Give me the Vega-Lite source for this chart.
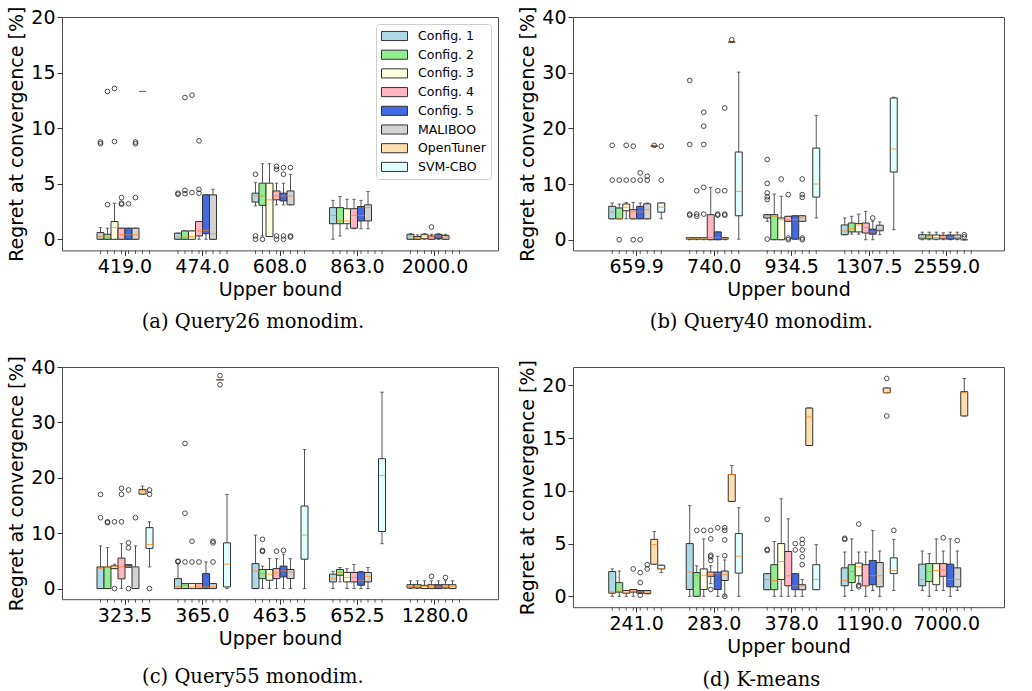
{
"$schema":"https://vega.github.io/schema/vega-lite/v6.json",
"background":"white",
"padding":{"left":7,"top":5,"right":0,"bottom":0},
"datasets":{
"boxes":[
{"p":"a","u":"419.0","c":"Config. 1","lo":0,"q1":0,"md":0.25,"q3":0.6,"hi":1.05},
{"p":"a","u":"419.0","c":"Config. 2","lo":0,"q1":0,"md":0.2,"q3":0.45,"hi":1.0},
{"p":"a","u":"419.0","c":"Config. 3","lo":0,"q1":0,"md":1.05,"q3":1.6,"hi":3.25},
{"p":"a","u":"419.0","c":"Config. 4","lo":0,"q1":0,"md":0.4,"q3":1.0,"hi":1.0},
{"p":"a","u":"419.0","c":"Config. 5","lo":0,"q1":0,"md":0.4,"q3":1.0,"hi":1.0},
{"p":"a","u":"419.0","c":"MALIBOO","lo":0,"q1":0,"md":0.4,"q3":1.0,"hi":1.0},
{"p":"a","u":"419.0","c":"OpenTuner","lo":13.3,"q1":13.3,"md":13.3,"q3":13.3,"hi":13.3},
{"p":"a","u":"419.0","c":"SVM-CBO"},
{"p":"a","u":"474.0","c":"Config. 1","lo":0,"q1":0,"md":0.2,"q3":0.55,"hi":0.55},
{"p":"a","u":"474.0","c":"Config. 2","lo":0,"q1":0,"md":0.2,"q3":0.75,"hi":0.75},
{"p":"a","u":"474.0","c":"Config. 3","lo":0,"q1":0,"md":0.25,"q3":0.75,"hi":0.75},
{"p":"a","u":"474.0","c":"Config. 4","lo":0,"q1":0.3,"md":0.75,"q3":1.6,"hi":1.6},
{"p":"a","u":"474.0","c":"Config. 5","lo":0,"q1":0.5,"md":0.8,"q3":4.0,"hi":4.0},
{"p":"a","u":"474.0","c":"MALIBOO","lo":0,"q1":0,"md":0.5,"q3":4.0,"hi":4.5},
{"p":"a","u":"474.0","c":"OpenTuner"},
{"p":"a","u":"474.0","c":"SVM-CBO"},
{"p":"a","u":"608.0","c":"Config. 1","lo":3.0,"q1":3.35,"md":3.9,"q3":4.15,"hi":5.1},
{"p":"a","u":"608.0","c":"Config. 2","lo":0.3,"q1":3.05,"md":3.9,"q3":5.05,"hi":6.8},
{"p":"a","u":"608.0","c":"Config. 3","lo":0.25,"q1":0.25,"md":3.55,"q3":5.05,"hi":6.8},
{"p":"a","u":"608.0","c":"Config. 4","lo":3.1,"q1":3.55,"md":3.9,"q3":4.35,"hi":5.05},
{"p":"a","u":"608.0","c":"Config. 5","lo":3.1,"q1":3.45,"md":3.9,"q3":4.15,"hi":5.05},
{"p":"a","u":"608.0","c":"MALIBOO","lo":3.1,"q1":3.1,"md":3.9,"q3":4.35,"hi":5.85},
{"p":"a","u":"608.0","c":"OpenTuner"},
{"p":"a","u":"608.0","c":"SVM-CBO"},
{"p":"a","u":"863.0","c":"Config. 1","lo":0,"q1":1.4,"md":2.15,"q3":2.85,"hi":3.5},
{"p":"a","u":"863.0","c":"Config. 2","lo":0.3,"q1":1.4,"md":1.65,"q3":2.85,"hi":3.85},
{"p":"a","u":"863.0","c":"Config. 3","lo":0.95,"q1":1.4,"md":1.65,"q3":2.75,"hi":3.6},
{"p":"a","u":"863.0","c":"Config. 4","lo":0.95,"q1":1.0,"md":2.15,"q3":2.75,"hi":3.6},
{"p":"a","u":"863.0","c":"Config. 5","lo":0.95,"q1":1.65,"md":2.15,"q3":2.95,"hi":3.5},
{"p":"a","u":"863.0","c":"MALIBOO","lo":0.95,"q1":1.65,"md":2.85,"q3":3.1,"hi":4.3},
{"p":"a","u":"863.0","c":"OpenTuner"},
{"p":"a","u":"863.0","c":"SVM-CBO"},
{"p":"a","u":"2000.0","c":"Config. 1","lo":0,"q1":0,"md":0.3,"q3":0.45,"hi":0.5},
{"p":"a","u":"2000.0","c":"Config. 2","lo":0,"q1":0,"md":0.1,"q3":0.25,"hi":0.4},
{"p":"a","u":"2000.0","c":"Config. 3","lo":0,"q1":0.05,"md":0.3,"q3":0.45,"hi":0.5},
{"p":"a","u":"2000.0","c":"Config. 4","lo":0,"q1":0,"md":0.2,"q3":0.3,"hi":0.45},
{"p":"a","u":"2000.0","c":"Config. 5","lo":0,"q1":0.05,"md":0.3,"q3":0.45,"hi":0.5},
{"p":"a","u":"2000.0","c":"MALIBOO","lo":0,"q1":0,"md":0.2,"q3":0.35,"hi":0.45},
{"p":"a","u":"2000.0","c":"OpenTuner"},
{"p":"a","u":"2000.0","c":"SVM-CBO"},
{"p":"b","u":"659.9","c":"Config. 1","lo":3.75,"q1":3.75,"md":5.0,"q3":6.0,"hi":6.6},
{"p":"b","u":"659.9","c":"Config. 2","lo":3.75,"q1":3.75,"md":3.75,"q3":5.7,"hi":6.4},
{"p":"b","u":"659.9","c":"Config. 3","lo":3.75,"q1":5.2,"md":5.85,"q3":6.4,"hi":6.7},
{"p":"b","u":"659.9","c":"Config. 4","lo":3.75,"q1":3.75,"md":5.0,"q3":5.4,"hi":6.7},
{"p":"b","u":"659.9","c":"Config. 5","lo":3.75,"q1":3.75,"md":5.0,"q3":6.0,"hi":6.6},
{"p":"b","u":"659.9","c":"MALIBOO","lo":3.75,"q1":3.75,"md":5.4,"q3":6.45,"hi":6.6},
{"p":"b","u":"659.9","c":"OpenTuner","lo":16.8,"q1":16.8,"md":16.8,"q3":16.8,"hi":16.8},
{"p":"b","u":"659.9","c":"SVM-CBO","lo":3.75,"q1":4.95,"md":5.85,"q3":6.6,"hi":6.6},
{"p":"b","u":"740.0","c":"Config. 1","lo":0,"q1":0.1,"md":0.3,"q3":0.4,"hi":0.4},
{"p":"b","u":"740.0","c":"Config. 2","lo":0,"q1":0.1,"md":0.3,"q3":0.4,"hi":0.4},
{"p":"b","u":"740.0","c":"Config. 3","lo":0,"q1":0.1,"md":0.3,"q3":0.4,"hi":0.4},
{"p":"b","u":"740.0","c":"Config. 4","lo":0,"q1":0,"md":0.4,"q3":4.5,"hi":9.4},
{"p":"b","u":"740.0","c":"Config. 5","lo":0,"q1":0,"md":0.4,"q3":1.4,"hi":1.4},
{"p":"b","u":"740.0","c":"MALIBOO","lo":0,"q1":0.1,"md":0.3,"q3":0.4,"hi":0.4},
{"p":"b","u":"740.0","c":"OpenTuner","lo":35.5,"q1":35.5,"md":35.5,"q3":35.5,"hi":35.5},
{"p":"b","u":"740.0","c":"SVM-CBO","lo":0.1,"q1":4.3,"md":8.7,"q3":15.75,"hi":30.1},
{"p":"b","u":"934.5","c":"Config. 1","lo":3.3,"q1":3.9,"md":4.3,"q3":4.5,"hi":4.5},
{"p":"b","u":"934.5","c":"Config. 2","lo":0,"q1":0,"md":4.2,"q3":4.5,"hi":8.2},
{"p":"b","u":"934.5","c":"Config. 3","lo":0,"q1":0,"md":3.6,"q3":3.9,"hi":7.8},
{"p":"b","u":"934.5","c":"Config. 4","lo":3.3,"q1":3.3,"md":3.6,"q3":4.2,"hi":4.2},
{"p":"b","u":"934.5","c":"Config. 5","lo":0.1,"q1":0.1,"md":3.6,"q3":4.3,"hi":4.3},
{"p":"b","u":"934.5","c":"MALIBOO","lo":3.3,"q1":3.3,"md":3.9,"q3":4.3,"hi":4.3},
{"p":"b","u":"934.5","c":"OpenTuner"},
{"p":"b","u":"934.5","c":"SVM-CBO","lo":3.9,"q1":7.65,"md":10.0,"q3":16.45,"hi":22.3},
{"p":"b","u":"1307.5","c":"Config. 1","lo":0.9,"q1":0.9,"md":1.6,"q3":2.65,"hi":3.9},
{"p":"b","u":"1307.5","c":"Config. 2","lo":1.0,"q1":1.4,"md":2.0,"q3":3.0,"hi":4.2},
{"p":"b","u":"1307.5","c":"Config. 3","lo":1.0,"q1":1.4,"md":2.65,"q3":2.9,"hi":4.6},
{"p":"b","u":"1307.5","c":"Config. 4","lo":0,"q1":1.2,"md":2.2,"q3":3.0,"hi":5.1},
{"p":"b","u":"1307.5","c":"Config. 5","lo":0,"q1":1.0,"md":1.4,"q3":1.9,"hi":3.3},
{"p":"b","u":"1307.5","c":"MALIBOO","lo":0.9,"q1":1.6,"md":1.8,"q3":2.6,"hi":3.2},
{"p":"b","u":"1307.5","c":"OpenTuner"},
{"p":"b","u":"1307.5","c":"SVM-CBO","lo":1.8,"q1":12.15,"md":16.3,"q3":25.45,"hi":25.6},
{"p":"b","u":"2559.0","c":"Config. 1","lo":0,"q1":0.15,"md":0.45,"q3":0.9,"hi":1.35},
{"p":"b","u":"2559.0","c":"Config. 2","lo":0,"q1":0.15,"md":0.5,"q3":0.85,"hi":1.35},
{"p":"b","u":"2559.0","c":"Config. 3","lo":0,"q1":0.1,"md":0.4,"q3":0.85,"hi":1.35},
{"p":"b","u":"2559.0","c":"Config. 4","lo":0,"q1":0.15,"md":0.45,"q3":0.8,"hi":1.25},
{"p":"b","u":"2559.0","c":"Config. 5","lo":0,"q1":0.1,"md":0.45,"q3":0.85,"hi":1.35},
{"p":"b","u":"2559.0","c":"MALIBOO","lo":0,"q1":0.15,"md":0.4,"q3":0.85,"hi":1.35},
{"p":"b","u":"2559.0","c":"OpenTuner","lo":0,"q1":0,"md":0,"q3":0,"hi":0},
{"p":"b","u":"2559.0","c":"SVM-CBO"},
{"p":"c","u":"323.5","c":"Config. 1","lo":0,"q1":0,"md":3.6,"q3":3.9,"hi":7.7},
{"p":"c","u":"323.5","c":"Config. 2","lo":0,"q1":0,"md":3.9,"q3":3.9,"hi":7.4},
{"p":"c","u":"323.5","c":"Config. 3","lo":3.6,"q1":3.6,"md":3.9,"q3":4.1,"hi":4.4},
{"p":"c","u":"323.5","c":"Config. 4","lo":0,"q1":1.75,"md":3.9,"q3":5.5,"hi":8.1},
{"p":"c","u":"323.5","c":"Config. 5","lo":3.8,"q1":3.8,"md":3.9,"q3":4.3,"hi":4.3},
{"p":"c","u":"323.5","c":"MALIBOO","lo":0,"q1":0,"md":3.8,"q3":3.9,"hi":7.7},
{"p":"c","u":"323.5","c":"OpenTuner","lo":17.05,"q1":17.05,"md":17.65,"q3":17.9,"hi":18.5},
{"p":"c","u":"323.5","c":"SVM-CBO","lo":3.9,"q1":7.25,"md":7.95,"q3":11.0,"hi":12.05},
{"p":"c","u":"365.0","c":"Config. 1","lo":0,"q1":0,"md":0.4,"q3":1.8,"hi":4.5},
{"p":"c","u":"365.0","c":"Config. 2","lo":0,"q1":0,"md":0.6,"q3":0.9,"hi":0.9},
{"p":"c","u":"365.0","c":"Config. 3","lo":0,"q1":0,"md":0.3,"q3":0.9,"hi":0.9},
{"p":"c","u":"365.0","c":"Config. 4","lo":0,"q1":0,"md":0.3,"q3":0.9,"hi":0.9},
{"p":"c","u":"365.0","c":"Config. 5","lo":0,"q1":0,"md":0.3,"q3":2.7,"hi":4.8},
{"p":"c","u":"365.0","c":"MALIBOO","lo":0,"q1":0,"md":0.3,"q3":0.9,"hi":0.9},
{"p":"c","u":"365.0","c":"OpenTuner","lo":37.7,"q1":37.7,"md":37.7,"q3":37.7,"hi":37.7},
{"p":"c","u":"365.0","c":"SVM-CBO","lo":0,"q1":0.3,"md":4.4,"q3":8.25,"hi":17.0},
{"p":"c","u":"463.5","c":"Config. 1","lo":0,"q1":0,"md":3.2,"q3":4.5,"hi":9.65},
{"p":"c","u":"463.5","c":"Config. 2","lo":0,"q1":1.8,"md":2.7,"q3":3.45,"hi":4.05},
{"p":"c","u":"463.5","c":"Config. 3","lo":0,"q1":1.5,"md":2.6,"q3":3.45,"hi":5.4},
{"p":"c","u":"463.5","c":"Config. 4","lo":0,"q1":1.8,"md":2.85,"q3":3.6,"hi":5.4},
{"p":"c","u":"463.5","c":"Config. 5","lo":0,"q1":2.1,"md":3.2,"q3":4.05,"hi":6.2},
{"p":"c","u":"463.5","c":"MALIBOO","lo":0,"q1":1.8,"md":3.0,"q3":3.45,"hi":5.4},
{"p":"c","u":"463.5","c":"OpenTuner"},
{"p":"c","u":"463.5","c":"SVM-CBO","lo":0,"q1":5.3,"md":9.65,"q3":14.9,"hi":25.1},
{"p":"c","u":"652.5","c":"Config. 1","lo":0,"q1":1.2,"md":1.8,"q3":2.6,"hi":3.1},
{"p":"c","u":"652.5","c":"Config. 2","lo":1.2,"q1":2.4,"md":2.95,"q3":3.45,"hi":3.8},
{"p":"c","u":"652.5","c":"Config. 3","lo":0,"q1":1.2,"md":2.0,"q3":2.9,"hi":3.6},
{"p":"c","u":"652.5","c":"Config. 4","lo":0,"q1":1.2,"md":2.0,"q3":2.9,"hi":4.35},
{"p":"c","u":"652.5","c":"Config. 5","lo":0,"q1":0.6,"md":1.5,"q3":3.0,"hi":3.1},
{"p":"c","u":"652.5","c":"MALIBOO","lo":0,"q1":1.2,"md":2.2,"q3":2.9,"hi":3.8},
{"p":"c","u":"652.5","c":"OpenTuner"},
{"p":"c","u":"652.5","c":"SVM-CBO","lo":8.1,"q1":10.3,"md":20.4,"q3":23.45,"hi":35.45},
{"p":"c","u":"1280.0","c":"Config. 1","lo":0,"q1":0.1,"md":0.4,"q3":0.7,"hi":1.4},
{"p":"c","u":"1280.0","c":"Config. 2","lo":0,"q1":0.1,"md":0.4,"q3":0.7,"hi":1.4},
{"p":"c","u":"1280.0","c":"Config. 3","lo":0,"q1":0,"md":0.35,"q3":0.6,"hi":1.4},
{"p":"c","u":"1280.0","c":"Config. 4","lo":0,"q1":0,"md":0.4,"q3":0.7,"hi":1.4},
{"p":"c","u":"1280.0","c":"Config. 5","lo":0,"q1":0,"md":0.3,"q3":0.7,"hi":1.4},
{"p":"c","u":"1280.0","c":"MALIBOO","lo":0,"q1":0.1,"md":0.4,"q3":0.7,"hi":1.4},
{"p":"c","u":"1280.0","c":"OpenTuner","lo":0,"q1":0,"md":0.4,"q3":0.7,"hi":1.4},
{"p":"c","u":"1280.0","c":"SVM-CBO"},
{"p":"d","u":"241.0","c":"Config. 1","lo":0,"q1":0.3,"md":0.4,"q3":2.35,"hi":2.6},
{"p":"d","u":"241.0","c":"Config. 2","lo":0,"q1":0.4,"md":0.5,"q3":1.3,"hi":2.4},
{"p":"d","u":"241.0","c":"Config. 3","lo":0,"q1":0.3,"md":0.4,"q3":0.55,"hi":0.55},
{"p":"d","u":"241.0","c":"Config. 4","lo":0,"q1":0.4,"md":0.5,"q3":0.65,"hi":0.65},
{"p":"d","u":"241.0","c":"Config. 5","lo":0.3,"q1":0.3,"md":0.4,"q3":0.55,"hi":0.55},
{"p":"d","u":"241.0","c":"MALIBOO","lo":0.25,"q1":0.25,"md":0.4,"q3":0.55,"hi":0.55},
{"p":"d","u":"241.0","c":"OpenTuner","lo":3.05,"q1":3.05,"md":4.9,"q3":5.4,"hi":6.15},
{"p":"d","u":"241.0","c":"SVM-CBO","lo":2.25,"q1":2.6,"md":2.6,"q3":2.95,"hi":2.95},
{"p":"d","u":"283.0","c":"Config. 1","lo":0,"q1":0.65,"md":2.3,"q3":5.0,"hi":8.6},
{"p":"d","u":"283.0","c":"Config. 2","lo":0,"q1":0,"md":1.95,"q3":2.25,"hi":2.9},
{"p":"d","u":"283.0","c":"Config. 3","lo":0,"q1":0.65,"md":2.0,"q3":2.6,"hi":5.45},
{"p":"d","u":"283.0","c":"Config. 4","lo":1.2,"q1":1.9,"md":2.05,"q3":2.3,"hi":2.9},
{"p":"d","u":"283.0","c":"Config. 5","lo":0,"q1":0.65,"md":2.15,"q3":2.3,"hi":3.8},
{"p":"d","u":"283.0","c":"MALIBOO","lo":0,"q1":1.5,"md":2.05,"q3":2.4,"hi":3.45},
{"p":"d","u":"283.0","c":"OpenTuner","lo":9.0,"q1":9.0,"md":11.55,"q3":11.55,"hi":12.4},
{"p":"d","u":"283.0","c":"SVM-CBO","lo":0,"q1":2.2,"md":3.8,"q3":5.95,"hi":8.4},
{"p":"d","u":"378.0","c":"Config. 1","lo":0.63,"q1":0.63,"md":1.6,"q3":2.15,"hi":2.15},
{"p":"d","u":"378.0","c":"Config. 2","lo":0,"q1":0.63,"md":1.5,"q3":3.0,"hi":5.2},
{"p":"d","u":"378.0","c":"Config. 3","lo":0,"q1":1.6,"md":3.3,"q3":5.0,"hi":9.25},
{"p":"d","u":"378.0","c":"Config. 4","lo":0,"q1":1.0,"md":1.95,"q3":4.25,"hi":7.35},
{"p":"d","u":"378.0","c":"Config. 5","lo":0,"q1":0.63,"md":1.0,"q3":2.15,"hi":2.15},
{"p":"d","u":"378.0","c":"MALIBOO","lo":0,"q1":0.63,"md":1.0,"q3":1.1,"hi":1.6},
{"p":"d","u":"378.0","c":"OpenTuner","lo":14.3,"q1":14.3,"md":17.0,"q3":17.85,"hi":17.85},
{"p":"d","u":"378.0","c":"SVM-CBO","lo":0.63,"q1":0.63,"md":1.6,"q3":3.0,"hi":4.9},
{"p":"d","u":"1190.0","c":"Config. 1","lo":0,"q1":1.0,"md":1.5,"q3":2.7,"hi":4.2},
{"p":"d","u":"1190.0","c":"Config. 2","lo":0.55,"q1":1.3,"md":2.35,"q3":3.0,"hi":5.45},
{"p":"d","u":"1190.0","c":"Config. 3","lo":1.2,"q1":1.95,"md":2.8,"q3":3.15,"hi":4.2},
{"p":"d","u":"1190.0","c":"Config. 4","lo":0,"q1":1.0,"md":1.0,"q3":3.0,"hi":4.2},
{"p":"d","u":"1190.0","c":"Config. 5","lo":0.55,"q1":1.1,"md":1.95,"q3":3.4,"hi":6.25},
{"p":"d","u":"1190.0","c":"MALIBOO","lo":0,"q1":0.9,"md":1.95,"q3":3.2,"hi":4.3},
{"p":"d","u":"1190.0","c":"OpenTuner","lo":19.3,"q1":19.3,"md":19.3,"q3":19.75,"hi":19.75},
{"p":"d","u":"1190.0","c":"SVM-CBO","lo":0.55,"q1":2.15,"md":2.45,"q3":3.65,"hi":5.4},
{"p":"d","u":"7000.0","c":"Config. 1","lo":0.55,"q1":1.0,"md":1.6,"q3":3.05,"hi":4.3},
{"p":"d","u":"7000.0","c":"Config. 2","lo":0,"q1":1.4,"md":2.35,"q3":3.1,"hi":4.05},
{"p":"d","u":"7000.0","c":"Config. 3","lo":0.55,"q1":1.1,"md":2.45,"q3":3.1,"hi":5.45},
{"p":"d","u":"7000.0","c":"Config. 4","lo":0.55,"q1":1.9,"md":2.5,"q3":3.1,"hi":4.3},
{"p":"d","u":"7000.0","c":"Config. 5","lo":0,"q1":0.9,"md":1.6,"q3":3.05,"hi":5.45},
{"p":"d","u":"7000.0","c":"MALIBOO","lo":0.55,"q1":0.9,"md":1.6,"q3":2.7,"hi":4.3},
{"p":"d","u":"7000.0","c":"OpenTuner","lo":17.1,"q1":17.1,"md":19.3,"q3":19.4,"hi":20.65},
{"p":"d","u":"7000.0","c":"SVM-CBO"}
],
"outl":[
{"p":"a","u":"419.0","c":"Config. 1","v":8.6},{"p":"a","u":"419.0","c":"Config. 1","v":8.75},
{"p":"a","u":"419.0","c":"Config. 2","v":13.3},{"p":"a","u":"419.0","c":"Config. 2","v":3.12},
{"p":"a","u":"419.0","c":"Config. 3","v":13.57},{"p":"a","u":"419.0","c":"Config. 3","v":8.8},
{"p":"a","u":"419.0","c":"Config. 4","v":3.75},{"p":"a","u":"419.0","c":"Config. 4","v":3.25},{"p":"a","u":"419.0","c":"Config. 4","v":3.15},
{"p":"a","u":"419.0","c":"Config. 5","v":3.2},
{"p":"a","u":"419.0","c":"MALIBOO","v":3.75},{"p":"a","u":"419.0","c":"MALIBOO","v":8.6},{"p":"a","u":"419.0","c":"MALIBOO","v":8.75},
{"p":"a","u":"474.0","c":"Config. 1","v":4.05},{"p":"a","u":"474.0","c":"Config. 1","v":4.15},
{"p":"a","u":"474.0","c":"Config. 2","v":12.75},{"p":"a","u":"474.0","c":"Config. 2","v":4.4},{"p":"a","u":"474.0","c":"Config. 2","v":4.1},
{"p":"a","u":"474.0","c":"Config. 3","v":12.97},{"p":"a","u":"474.0","c":"Config. 3","v":4.2},
{"p":"a","u":"474.0","c":"Config. 4","v":8.86},{"p":"a","u":"474.0","c":"Config. 4","v":4.5},{"p":"a","u":"474.0","c":"Config. 4","v":4.15},
{"p":"a","u":"608.0","c":"Config. 1","v":5.85},{"p":"a","u":"608.0","c":"Config. 1","v":0.3},{"p":"a","u":"608.0","c":"Config. 1","v":0},
{"p":"a","u":"608.0","c":"Config. 2","v":0},
{"p":"a","u":"608.0","c":"Config. 4","v":6.3},{"p":"a","u":"608.0","c":"Config. 4","v":6.55},{"p":"a","u":"608.0","c":"Config. 4","v":0.3},{"p":"a","u":"608.0","c":"Config. 4","v":0},
{"p":"a","u":"608.0","c":"Config. 5","v":6.45},{"p":"a","u":"608.0","c":"Config. 5","v":5.85},{"p":"a","u":"608.0","c":"Config. 5","v":0.3},{"p":"a","u":"608.0","c":"Config. 5","v":0},
{"p":"a","u":"608.0","c":"MALIBOO","v":6.45},{"p":"a","u":"608.0","c":"MALIBOO","v":0.3},{"p":"a","u":"608.0","c":"MALIBOO","v":0.2},
{"p":"a","u":"2000.0","c":"Config. 4","v":1.1},
{"p":"b","u":"659.9","c":"Config. 1","v":16.95},{"p":"b","u":"659.9","c":"Config. 1","v":10.7},
{"p":"b","u":"659.9","c":"Config. 2","v":0},{"p":"b","u":"659.9","c":"Config. 2","v":10.7},
{"p":"b","u":"659.9","c":"Config. 3","v":16.95},{"p":"b","u":"659.9","c":"Config. 3","v":10.7},
{"p":"b","u":"659.9","c":"Config. 4","v":16.8},{"p":"b","u":"659.9","c":"Config. 4","v":10.7},{"p":"b","u":"659.9","c":"Config. 4","v":0},
{"p":"b","u":"659.9","c":"Config. 5","v":12.0},{"p":"b","u":"659.9","c":"Config. 5","v":10.7},{"p":"b","u":"659.9","c":"Config. 5","v":0},
{"p":"b","u":"659.9","c":"MALIBOO","v":11.4},{"p":"b","u":"659.9","c":"MALIBOO","v":10.7},
{"p":"b","u":"659.9","c":"OpenTuner","v":16.95},
{"p":"b","u":"659.9","c":"SVM-CBO","v":16.8},{"p":"b","u":"659.9","c":"SVM-CBO","v":10.7},
{"p":"b","u":"740.0","c":"Config. 1","v":28.6},{"p":"b","u":"740.0","c":"Config. 1","v":17.1},{"p":"b","u":"740.0","c":"Config. 1","v":4.6},{"p":"b","u":"740.0","c":"Config. 1","v":4.4},
{"p":"b","u":"740.0","c":"Config. 2","v":8.8},{"p":"b","u":"740.0","c":"Config. 2","v":4.6},{"p":"b","u":"740.0","c":"Config. 2","v":4.2},
{"p":"b","u":"740.0","c":"Config. 3","v":22.9},{"p":"b","u":"740.0","c":"Config. 3","v":20.4},{"p":"b","u":"740.0","c":"Config. 3","v":17.1},{"p":"b","u":"740.0","c":"Config. 3","v":9.4},{"p":"b","u":"740.0","c":"Config. 3","v":4.6},
{"p":"b","u":"740.0","c":"Config. 5","v":8.8},{"p":"b","u":"740.0","c":"Config. 5","v":4.6},{"p":"b","u":"740.0","c":"Config. 5","v":4.4},
{"p":"b","u":"740.0","c":"MALIBOO","v":23.65},{"p":"b","u":"740.0","c":"MALIBOO","v":8.8},{"p":"b","u":"740.0","c":"MALIBOO","v":4.6},{"p":"b","u":"740.0","c":"MALIBOO","v":4.4},
{"p":"b","u":"740.0","c":"OpenTuner","v":35.9},
{"p":"b","u":"934.5","c":"Config. 1","v":14.4},{"p":"b","u":"934.5","c":"Config. 1","v":10.1},{"p":"b","u":"934.5","c":"Config. 1","v":8.4},{"p":"b","u":"934.5","c":"Config. 1","v":7.7},{"p":"b","u":"934.5","c":"Config. 1","v":7.2},{"p":"b","u":"934.5","c":"Config. 1","v":0.1},
{"p":"b","u":"934.5","c":"Config. 3","v":10.9},
{"p":"b","u":"934.5","c":"Config. 4","v":8.1},{"p":"b","u":"934.5","c":"Config. 4","v":0.3},{"p":"b","u":"934.5","c":"Config. 4","v":0},
{"p":"b","u":"934.5","c":"MALIBOO","v":10.9},{"p":"b","u":"934.5","c":"MALIBOO","v":8.1},{"p":"b","u":"934.5","c":"MALIBOO","v":7.6},{"p":"b","u":"934.5","c":"MALIBOO","v":0.3},{"p":"b","u":"934.5","c":"MALIBOO","v":0},
{"p":"b","u":"1307.5","c":"Config. 5","v":3.9},
{"p":"b","u":"2559.0","c":"OpenTuner","v":0.9},{"p":"b","u":"2559.0","c":"OpenTuner","v":0.5},
{"p":"c","u":"323.5","c":"Config. 1","v":17.0},{"p":"c","u":"323.5","c":"Config. 1","v":12.8},
{"p":"c","u":"323.5","c":"Config. 2","v":12.05},{"p":"c","u":"323.5","c":"Config. 2","v":11.9},
{"p":"c","u":"323.5","c":"Config. 3","v":12.05},{"p":"c","u":"323.5","c":"Config. 3","v":0},
{"p":"c","u":"323.5","c":"Config. 4","v":18.1},{"p":"c","u":"323.5","c":"Config. 4","v":17.0},{"p":"c","u":"323.5","c":"Config. 4","v":12.05},
{"p":"c","u":"323.5","c":"Config. 5","v":17.8},{"p":"c","u":"323.5","c":"Config. 5","v":8.25},{"p":"c","u":"323.5","c":"Config. 5","v":7.35},{"p":"c","u":"323.5","c":"Config. 5","v":0},
{"p":"c","u":"323.5","c":"MALIBOO","v":12.8},
{"p":"c","u":"323.5","c":"SVM-CBO","v":17.8},{"p":"c","u":"323.5","c":"SVM-CBO","v":17.0},{"p":"c","u":"323.5","c":"SVM-CBO","v":0},
{"p":"c","u":"365.0","c":"Config. 1","v":4.85},{"p":"c","u":"365.0","c":"Config. 1","v":4.95},
{"p":"c","u":"365.0","c":"Config. 2","v":26.2},{"p":"c","u":"365.0","c":"Config. 2","v":13.6},{"p":"c","u":"365.0","c":"Config. 2","v":4.8},
{"p":"c","u":"365.0","c":"Config. 3","v":8.55},{"p":"c","u":"365.0","c":"Config. 3","v":4.8},
{"p":"c","u":"365.0","c":"Config. 4","v":4.8},
{"p":"c","u":"365.0","c":"MALIBOO","v":8.55},{"p":"c","u":"365.0","c":"MALIBOO","v":8.25},{"p":"c","u":"365.0","c":"MALIBOO","v":4.8},
{"p":"c","u":"365.0","c":"OpenTuner","v":38.45},{"p":"c","u":"365.0","c":"OpenTuner","v":36.8},
{"p":"c","u":"463.5","c":"Config. 2","v":8.9},{"p":"c","u":"463.5","c":"Config. 2","v":6.9},{"p":"c","u":"463.5","c":"Config. 2","v":6.7},
{"p":"c","u":"463.5","c":"Config. 4","v":6.75},
{"p":"c","u":"463.5","c":"Config. 5","v":6.9},
{"p":"c","u":"1280.0","c":"Config. 4","v":2.2},
{"p":"c","u":"1280.0","c":"MALIBOO","v":2.0},
{"p":"d","u":"241.0","c":"Config. 4","v":2.6},
{"p":"d","u":"241.0","c":"Config. 5","v":2.25},{"p":"d","u":"241.0","c":"Config. 5","v":1.3},{"p":"d","u":"241.0","c":"Config. 5","v":0.1},
{"p":"d","u":"241.0","c":"MALIBOO","v":3.0},{"p":"d","u":"241.0","c":"MALIBOO","v":2.6},
{"p":"d","u":"283.0","c":"Config. 2","v":6.25},
{"p":"d","u":"283.0","c":"Config. 3","v":6.25},
{"p":"d","u":"283.0","c":"Config. 4","v":6.25},{"p":"d","u":"283.0","c":"Config. 4","v":5.45},{"p":"d","u":"283.0","c":"Config. 4","v":3.9},{"p":"d","u":"283.0","c":"Config. 4","v":3.75},{"p":"d","u":"283.0","c":"Config. 4","v":3.4},{"p":"d","u":"283.0","c":"Config. 4","v":0.65},
{"p":"d","u":"283.0","c":"Config. 5","v":6.5},
{"p":"d","u":"283.0","c":"MALIBOO","v":6.5},{"p":"d","u":"283.0","c":"MALIBOO","v":6.25},{"p":"d","u":"283.0","c":"MALIBOO","v":5.35},{"p":"d","u":"283.0","c":"MALIBOO","v":3.85},{"p":"d","u":"283.0","c":"MALIBOO","v":0},
{"p":"d","u":"378.0","c":"Config. 1","v":7.3},{"p":"d","u":"378.0","c":"Config. 1","v":4.45},{"p":"d","u":"378.0","c":"Config. 1","v":4.35},
{"p":"d","u":"378.0","c":"Config. 5","v":5.0},{"p":"d","u":"378.0","c":"Config. 5","v":4.4},
{"p":"d","u":"378.0","c":"MALIBOO","v":5.4},{"p":"d","u":"378.0","c":"MALIBOO","v":5.0},{"p":"d","u":"378.0","c":"MALIBOO","v":4.4},{"p":"d","u":"378.0","c":"MALIBOO","v":3.75},{"p":"d","u":"378.0","c":"MALIBOO","v":3.0},
{"p":"d","u":"1190.0","c":"Config. 1","v":5.5},{"p":"d","u":"1190.0","c":"Config. 1","v":5.4},
{"p":"d","u":"1190.0","c":"Config. 3","v":6.85},{"p":"d","u":"1190.0","c":"Config. 3","v":1.05},{"p":"d","u":"1190.0","c":"Config. 3","v":0.9},
{"p":"d","u":"1190.0","c":"OpenTuner","v":20.65},{"p":"d","u":"1190.0","c":"OpenTuner","v":17.1},
{"p":"d","u":"1190.0","c":"SVM-CBO","v":6.25},
{"p":"d","u":"7000.0","c":"Config. 4","v":5.55},
{"p":"d","u":"7000.0","c":"MALIBOO","v":5.3}
]
},
"spacing":22,
"resolve":{"scale":{"x":"independent","y":"independent","color":"independent"},"axis":{"x":"independent","y":"independent"},"legend":{"color":"independent"}},
"vconcat":[
{"hconcat":[
{"width":436,"height":233.4,
"title":{"text":"(a) Query26 monodim.","orient":"bottom","anchor":"middle","frame":"bounds","font":"DejaVu Serif","fontSize":19.5,"fontWeight":"normal","color":"#000","offset":14},
"encoding":{"x":{"field":"u","type":"nominal","scale":{"domain":["419.0","474.0","608.0","863.0","2000.0"],"paddingInner":0.277,"paddingOuter":0.4515},"axis":{"title":"Upper bound"}},
"xOffset":{"field":"c","type":"nominal","scale":{"domain":["Config. 1","Config. 2","Config. 3","Config. 4","Config. 5","MALIBOO","OpenTuner","SVM-CBO"],"paddingInner":0,"paddingOuter":0}}},
"layer":[
{"data":{"name":"boxes"},"transform":[{"filter":"datum.p==='a'"}],"mark":{"type":"rule","color":"#555","strokeWidth":1},"encoding":{"y":{"field":"lo","type":"quantitative","title":"Regret at convergence [%]","scale":{"domain":[-1,20],"nice":false,"zero":false},"axis":{"values":[0,5,10,15,20]}},"y2":{"field":"hi"}}},
{"data":{"name":"boxes"},"transform":[{"filter":"datum.p==='a'"}],"mark":{"type":"tick","color":"#333","thickness":1,"size":3.5},"encoding":{"y":{"field":"lo","type":"quantitative","title":"Regret at convergence [%]"}}},
{"data":{"name":"boxes"},"transform":[{"filter":"datum.p==='a'"}],"mark":{"type":"tick","color":"#333","thickness":1,"size":3.5},"encoding":{"y":{"field":"hi","type":"quantitative","title":"Regret at convergence [%]"}}},
{"data":{"name":"boxes"},"transform":[{"filter":"datum.p==='a'"}],"mark":{"type":"bar","stroke":"#333","strokeWidth":1},"encoding":{"y":{"field":"q1","type":"quantitative","title":"Regret at convergence [%]"},"y2":{"field":"q3"},"color":{"field":"c","type":"nominal","scale":{"domain":["Config. 1","Config. 2","Config. 3","Config. 4","Config. 5","MALIBOO","OpenTuner","SVM-CBO"],"range":["#add8e6","#90ee90","#ffffe0","#ffb6c1","#4169e1","#d3d3d3","#ffdead","#e0ffff"]},"legend":{"title":null,"orient":"top-right","offset":7,"symbolType":"M-2,-0.7L2,-0.7L2,0.7L-2,0.7Z","symbolSize":169,"symbolOffset":6.5,"symbolStrokeColor":"#333","symbolStrokeWidth":1,"symbolOpacity":1,"labelFont":"DejaVu Sans","labelFontSize":12.5,"labelColor":"#000","labelOffset":16.5,"rowPadding":4.7,"padding":5,"fillColor":"#ffffff","strokeColor":"#d0d0d0","cornerRadius":3}}}},
{"data":{"name":"boxes"},"transform":[{"filter":"datum.p==='a'"}],"mark":{"type":"tick","color":"#ff7f0e","thickness":1,"size":7},"encoding":{"y":{"field":"md","type":"quantitative","title":"Regret at convergence [%]"}}},
{"data":{"name":"outl"},"transform":[{"filter":"datum.p==='a'"}],"mark":{"type":"point","shape":"circle","filled":false,"stroke":"#222","strokeWidth":0.8,"size":22,"opacity":1},"encoding":{"y":{"field":"v","type":"quantitative","title":"Regret at convergence [%]"}}},
{"data":{"name":"boxes"},"transform":[{"filter":"datum.p==='a'"}],"mark":{"type":"rule","color":"#333","strokeWidth":0.8},"encoding":{"y":{"datum":-1,"title":"Regret at convergence [%]"},"y2":{"datum":-1.32}}}
]},
{"width":431,"height":233.4,
"title":{"text":"(b) Query40 monodim.","orient":"bottom","anchor":"middle","frame":"bounds","font":"DejaVu Serif","fontSize":19.5,"fontWeight":"normal","color":"#000","offset":14},
"encoding":{"x":{"field":"u","type":"nominal","scale":{"domain":["659.9","740.0","934.5","1307.5","2559.0"],"paddingInner":0.277,"paddingOuter":0.419,"align":0.55},"axis":{"title":"Upper bound"}},
"xOffset":{"field":"c","type":"nominal","scale":{"domain":["Config. 1","Config. 2","Config. 3","Config. 4","Config. 5","MALIBOO","OpenTuner","SVM-CBO"],"paddingInner":0,"paddingOuter":0}}},
"layer":[
{"data":{"name":"boxes"},"transform":[{"filter":"datum.p==='b'"}],"mark":{"type":"rule","color":"#555","strokeWidth":1},"encoding":{"y":{"field":"lo","type":"quantitative","title":"Regret at convergence [%]","scale":{"domain":[-1.92,40],"nice":false,"zero":false},"axis":{"values":[0,10,20,30,40]}},"y2":{"field":"hi"}}},
{"data":{"name":"boxes"},"transform":[{"filter":"datum.p==='b'"}],"mark":{"type":"tick","color":"#333","thickness":1,"size":3.5},"encoding":{"y":{"field":"lo","type":"quantitative","title":"Regret at convergence [%]"}}},
{"data":{"name":"boxes"},"transform":[{"filter":"datum.p==='b'"}],"mark":{"type":"tick","color":"#333","thickness":1,"size":3.5},"encoding":{"y":{"field":"hi","type":"quantitative","title":"Regret at convergence [%]"}}},
{"data":{"name":"boxes"},"transform":[{"filter":"datum.p==='b'"}],"mark":{"type":"bar","stroke":"#333","strokeWidth":1},"encoding":{"y":{"field":"q1","type":"quantitative","title":"Regret at convergence [%]"},"y2":{"field":"q3"},"color":{"field":"c","type":"nominal","scale":{"domain":["Config. 1","Config. 2","Config. 3","Config. 4","Config. 5","MALIBOO","OpenTuner","SVM-CBO"],"range":["#add8e6","#90ee90","#ffffe0","#ffb6c1","#4169e1","#d3d3d3","#ffdead","#e0ffff"]},"legend":null}}},
{"data":{"name":"boxes"},"transform":[{"filter":"datum.p==='b'"}],"mark":{"type":"tick","color":"#ff7f0e","thickness":1,"size":7},"encoding":{"y":{"field":"md","type":"quantitative","title":"Regret at convergence [%]"}}},
{"data":{"name":"outl"},"transform":[{"filter":"datum.p==='b'"}],"mark":{"type":"point","shape":"circle","filled":false,"stroke":"#222","strokeWidth":0.8,"size":22,"opacity":1},"encoding":{"y":{"field":"v","type":"quantitative","title":"Regret at convergence [%]"}}},
{"data":{"name":"boxes"},"transform":[{"filter":"datum.p==='b'"}],"mark":{"type":"rule","color":"#333","strokeWidth":0.8},"encoding":{"y":{"datum":-1.92,"title":"Regret at convergence [%]"},"y2":{"datum":-2.55}}}
]}
],"spacing":19,"resolve":{"scale":{"x":"independent","y":"independent","color":"independent"},"axis":{"x":"independent","y":"independent"},"legend":{"color":"independent"}}},
{"hconcat":[
{"width":436,"height":232.2,
"title":{"text":"(c) Query55 monodim.","orient":"bottom","anchor":"middle","frame":"bounds","font":"DejaVu Serif","fontSize":19.5,"fontWeight":"normal","color":"#000","offset":20},
"encoding":{"x":{"field":"u","type":"nominal","scale":{"domain":["323.5","365.0","463.5","652.5","1280.0"],"paddingInner":0.277,"paddingOuter":0.4515},"axis":{"title":"Upper bound"}},
"xOffset":{"field":"c","type":"nominal","scale":{"domain":["Config. 1","Config. 2","Config. 3","Config. 4","Config. 5","MALIBOO","OpenTuner","SVM-CBO"],"paddingInner":0,"paddingOuter":0}}},
"layer":[
{"data":{"name":"boxes"},"transform":[{"filter":"datum.p==='c'"}],"mark":{"type":"rule","color":"#555","strokeWidth":1},"encoding":{"y":{"field":"lo","type":"quantitative","title":"Regret at convergence [%]","scale":{"domain":[-1.92,40],"nice":false,"zero":false},"axis":{"values":[0,10,20,30,40]}},"y2":{"field":"hi"}}},
{"data":{"name":"boxes"},"transform":[{"filter":"datum.p==='c'"}],"mark":{"type":"tick","color":"#333","thickness":1,"size":3.5},"encoding":{"y":{"field":"lo","type":"quantitative","title":"Regret at convergence [%]"}}},
{"data":{"name":"boxes"},"transform":[{"filter":"datum.p==='c'"}],"mark":{"type":"tick","color":"#333","thickness":1,"size":3.5},"encoding":{"y":{"field":"hi","type":"quantitative","title":"Regret at convergence [%]"}}},
{"data":{"name":"boxes"},"transform":[{"filter":"datum.p==='c'"}],"mark":{"type":"bar","stroke":"#333","strokeWidth":1},"encoding":{"y":{"field":"q1","type":"quantitative","title":"Regret at convergence [%]"},"y2":{"field":"q3"},"color":{"field":"c","type":"nominal","scale":{"domain":["Config. 1","Config. 2","Config. 3","Config. 4","Config. 5","MALIBOO","OpenTuner","SVM-CBO"],"range":["#add8e6","#90ee90","#ffffe0","#ffb6c1","#4169e1","#d3d3d3","#ffdead","#e0ffff"]},"legend":null}}},
{"data":{"name":"boxes"},"transform":[{"filter":"datum.p==='c'"}],"mark":{"type":"tick","color":"#ff7f0e","thickness":1,"size":7},"encoding":{"y":{"field":"md","type":"quantitative","title":"Regret at convergence [%]"}}},
{"data":{"name":"outl"},"transform":[{"filter":"datum.p==='c'"}],"mark":{"type":"point","shape":"circle","filled":false,"stroke":"#222","strokeWidth":0.8,"size":22,"opacity":1},"encoding":{"y":{"field":"v","type":"quantitative","title":"Regret at convergence [%]"}}},
{"data":{"name":"boxes"},"transform":[{"filter":"datum.p==='c'"}],"mark":{"type":"rule","color":"#333","strokeWidth":0.8},"encoding":{"y":{"datum":-1.92,"title":"Regret at convergence [%]"},"y2":{"datum":-2.55}}}
]},
{"width":431,"height":240.2,
"title":{"text":"(d) K-means","orient":"bottom","anchor":"middle","frame":"bounds","font":"DejaVu Serif","fontSize":19.5,"fontWeight":"normal","color":"#000","offset":15},
"encoding":{"x":{"field":"u","type":"nominal","scale":{"domain":["241.0","283.0","378.0","1190.0","7000.0"],"paddingInner":0.277,"paddingOuter":0.419,"align":0.55},"axis":{"title":"Upper bound"}},
"xOffset":{"field":"c","type":"nominal","scale":{"domain":["Config. 1","Config. 2","Config. 3","Config. 4","Config. 5","MALIBOO","OpenTuner","SVM-CBO"],"paddingInner":0,"paddingOuter":0}}},
"layer":[
{"data":{"name":"boxes"},"transform":[{"filter":"datum.p==='d'"}],"mark":{"type":"rule","color":"#555","strokeWidth":1},"encoding":{"y":{"field":"lo","type":"quantitative","title":"Regret at convergence [%]","scale":{"domain":[-1.03,21.74],"nice":false,"zero":false},"axis":{"values":[0,5,10,15,20]}},"y2":{"field":"hi"}}},
{"data":{"name":"boxes"},"transform":[{"filter":"datum.p==='d'"}],"mark":{"type":"tick","color":"#333","thickness":1,"size":3.5},"encoding":{"y":{"field":"lo","type":"quantitative","title":"Regret at convergence [%]"}}},
{"data":{"name":"boxes"},"transform":[{"filter":"datum.p==='d'"}],"mark":{"type":"tick","color":"#333","thickness":1,"size":3.5},"encoding":{"y":{"field":"hi","type":"quantitative","title":"Regret at convergence [%]"}}},
{"data":{"name":"boxes"},"transform":[{"filter":"datum.p==='d'"}],"mark":{"type":"bar","stroke":"#333","strokeWidth":1},"encoding":{"y":{"field":"q1","type":"quantitative","title":"Regret at convergence [%]"},"y2":{"field":"q3"},"color":{"field":"c","type":"nominal","scale":{"domain":["Config. 1","Config. 2","Config. 3","Config. 4","Config. 5","MALIBOO","OpenTuner","SVM-CBO"],"range":["#add8e6","#90ee90","#ffffe0","#ffb6c1","#4169e1","#d3d3d3","#ffdead","#e0ffff"]},"legend":null}}},
{"data":{"name":"boxes"},"transform":[{"filter":"datum.p==='d'"}],"mark":{"type":"tick","color":"#ff7f0e","thickness":1,"size":7},"encoding":{"y":{"field":"md","type":"quantitative","title":"Regret at convergence [%]"}}},
{"data":{"name":"outl"},"transform":[{"filter":"datum.p==='d'"}],"mark":{"type":"point","shape":"circle","filled":false,"stroke":"#222","strokeWidth":0.8,"size":22,"opacity":1},"encoding":{"y":{"field":"v","type":"quantitative","title":"Regret at convergence [%]"}}},
{"data":{"name":"boxes"},"transform":[{"filter":"datum.p==='d'"}],"mark":{"type":"rule","color":"#333","strokeWidth":0.8},"encoding":{"y":{"datum":-1.03,"title":"Regret at convergence [%]"},"y2":{"datum":-1.36}}}
]}
],"spacing":19,"resolve":{"scale":{"x":"independent","y":"independent","color":"independent"},"axis":{"x":"independent","y":"independent"},"legend":{"color":"independent"}}}
],
"config":{
"view":{"stroke":"#4d4d4d","strokeWidth":1},
"axis":{"labelFont":"DejaVu Sans","labelFontSize":19,"labelColor":"#000","titleFont":"DejaVu Sans","titleFontSize":19,"titleFontWeight":"normal","titleColor":"#000","domain":false,"ticks":true,"tickColor":"#333","tickSize":5,"grid":false,"labelPadding":2},
"axisX":{"labelAngle":0,"titlePadding":4},
"axisY":{"titlePadding":4}
}
}
